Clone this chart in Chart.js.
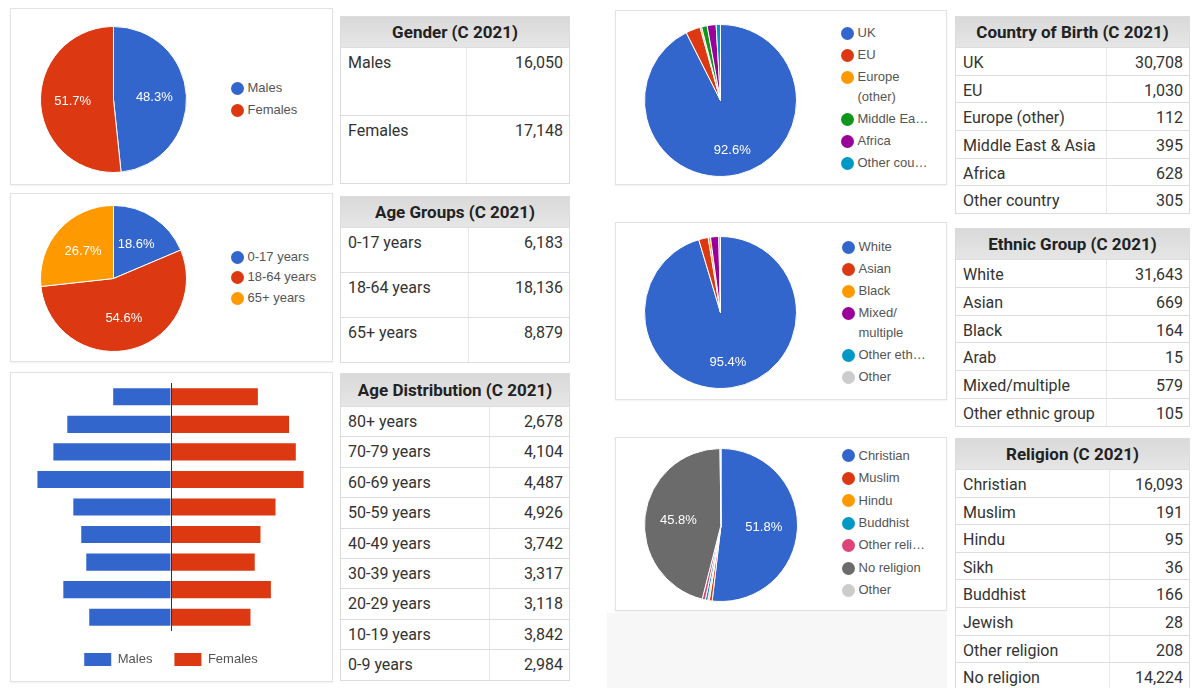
<!DOCTYPE html>
<html>
<head>
<meta charset="utf-8">
<script src="https://cdn.jsdelivr.net/npm/chart.js@4.4.0/dist/chart.umd.min.js"></script>
<style>
  body { margin: 0; width: 1195px; height: 688px; background: #fff; position: relative; overflow: hidden; font-family: Roboto, sans-serif; }
  .card { position: absolute; background: #fff; border: 1px solid #e2e2e2; box-shadow: 0 1px 2px rgba(0,0,0,.06); box-sizing: border-box; }
  .shade { position: absolute; background: #f7f7f7; }
  canvas { position: absolute; }
  .legend { position: absolute; margin: 0; padding: 0; list-style: none; font: 13px Arial, "Liberation Sans", sans-serif; color: #555; }
  .legend li { position: relative; padding: 1px 0 1px 17px; white-space: pre; }
  .legend i { position: absolute; left: 0; width: 13px; height: 13px; border-radius: 50%; }
  .tbl { position: absolute; box-sizing: border-box; border: 1px solid #dcdcdc; background: #fff; overflow: hidden; }
  .tbl .hd { text-align: center; font-weight: bold; font-size: 17px; color: #222; background: linear-gradient(#d9d9d9, #e6e6e6); }
  .tbl .row { position: relative; box-sizing: border-box; border-top: 1px solid #ddd; font-size: 16px; color: #333; line-height: 20px; padding-top: 5px; }
  .tbl .row .n { padding-left: 7px; }
  .tbl .row .v { position: absolute; right: 6px; top: 5px; }
  .tbl .row .d { position: absolute; top: 0; bottom: 0; border-left: 1px solid #e8e8e8; }
</style>
</head>
<body>
<div class="card" style="left:10px;top:8px;width:323px;height:177px"></div>
<div class="card" style="left:10px;top:193px;width:323px;height:169px"></div>
<div class="card" style="left:10px;top:372px;width:323px;height:310px"></div>
<div class="card" style="left:615px;top:10px;width:332px;height:175px"></div>
<div class="card" style="left:615px;top:222px;width:332px;height:178px"></div>
<div class="card" style="left:615px;top:437px;width:332px;height:174px"></div>
<div class="shade" style="left:607px;top:613px;width:340px;height:75px"></div>

<canvas id="genderPie" width="147" height="147" style="left:40px;top:26px"></canvas>
<canvas id="agePie" width="147" height="147" style="left:40px;top:205px"></canvas>
<canvas id="pyramid" width="323" height="308" style="left:10px;top:372px"></canvas>
<canvas id="countryPie" width="153" height="153" style="left:644px;top:24px"></canvas>
<canvas id="ethnicPie" width="153" height="153" style="left:644px;top:236px"></canvas>
<canvas id="religionPie" width="154" height="154" style="left:644px;top:448px"></canvas>

<ul class="legend" id="genderLegend"></ul>
<ul class="legend" id="ageLegend"></ul>
<ul class="legend" id="countryLegend"></ul>
<ul class="legend" id="ethnicLegend"></ul>
<ul class="legend" id="religionLegend"></ul>

<div class="tbl" id="genderTable"></div>
<div class="tbl" id="ageGroupTable"></div>
<div class="tbl" id="ageDistTable"></div>
<div class="tbl" id="countryTable"></div>
<div class="tbl" id="ethnicTable"></div>
<div class="tbl" id="religionTable"></div>

<script>
// ---- data (Census 2021) ----
const genderNames = ["Males", "Females"];
const genderValues = [16050, 17148];

const ageGroupNames = ["0-17 years", "18-64 years", "65+ years"];
const ageGroupValues = [6183, 18136, 8879];

const ageBands = ["80+ years", "70-79 years", "60-69 years", "50-59 years", "40-49 years",
  "30-39 years", "20-29 years", "10-19 years", "0-9 years"];
const ageBandTotals = [2678, 4104, 4487, 4926, 3742, 3317, 3118, 3842, 2984];
const malesByAge = [1070, 1919, 2177, 2472, 1808, 1661, 1568, 1993, 1513];
const femalesByAge = [1608, 2185, 2310, 2454, 1934, 1656, 1550, 1849, 1471];

const countryNames = ["UK", "EU", "Europe (other)", "Middle East & Asia", "Africa", "Other country"];
const countryValues = [30708, 1030, 112, 395, 628, 305];
const countryLegend = ["UK", "EU", "Europe\n(other)", "Middle Ea…", "Africa", "Other cou…"];

const ethnicNames = ["White", "Asian", "Black", "Arab", "Mixed/multiple", "Other ethnic group"];
const ethnicValues = [31643, 669, 164, 15, 579, 105];
const ethnicPieLabels = ["White", "Asian", "Black", "Mixed/multiple", "Other ethnic group", "Other"];
const ethnicPieValues = [31643, 669, 164, 579, 105, 15];
const ethnicLegend = ["White", "Asian", "Black", "Mixed/\nmultiple", "Other eth…", "Other"];

const religionNames = ["Christian", "Muslim", "Hindu", "Sikh", "Buddhist", "Jewish", "Other religion", "No religion"];
const religionValues = [16093, 191, 95, 36, 166, 28, 208, 14224];
const religionPieLabels = ["Christian", "Muslim", "Hindu", "Buddhist", "Other religion", "No religion", "Other"];
const religionPieValues = [16093, 191, 95, 166, 208, 14224, 64];
const religionLegend = ["Christian", "Muslim", "Hindu", "Buddhist", "Other reli…", "No religion", "Other"];

const blue = "#3366cc";
const red = "#dc3912";
const orange = "#ff9900";
const green = "#109618";
const purple = "#990099";
const teal = "#0099c6";
const pink = "#dd4477";
const grey = "#6b6b6b";
const lightGrey = "#cccccc";

// percentage text inside the bigger slices
const pieLabels = {
  id: "pieLabels",
  afterDatasetsDraw(chart) {
    const ctx = chart.ctx;
    const meta = chart.getDatasetMeta(0);
    const data = chart.data.datasets[0].data;
    const total = data.reduce((a, b) => a + b, 0);
    ctx.save();
    ctx.fillStyle = "#fff";
    ctx.font = "13px Arial";
    ctx.textAlign = "center";
    ctx.textBaseline = "middle";
    meta.data.forEach((arc, i) => {
      const share = data[i] / total;
      if (share < 0.05) return;
      const mid = (arc.startAngle + arc.endAngle) / 2;
      const d = arc.outerRadius * (share > 0.8 ? 0.67 : 0.56);
      ctx.fillText((share * 100).toFixed(1) + "%", arc.x + Math.cos(mid) * d, arc.y + Math.sin(mid) * d);
    });
    ctx.restore();
  },
};

function makePie(id, labels, values, colors) {
  return new Chart(document.getElementById(id), {
    type: "pie",
    data: {
      labels: labels,
      datasets: [{ data: values, backgroundColor: colors, borderColor: "#fff", borderWidth: 1, hoverOffset: 0 }],
    },
    options: {
      responsive: false,
      animation: false,
      plugins: { legend: { display: false }, tooltip: { enabled: false } },
    },
    plugins: [pieLabels],
  });
}

function buildLegend(id, names, colors, dotX, firstY, gap) {
  const ul = document.getElementById(id);
  ul.style.left = dotX - 6.5 + "px";
  ul.style.top = firstY - gap / 2 + "px";
  names.forEach((name, i) => {
    const li = document.createElement("li");
    li.style.lineHeight = gap - 2 + "px";
    const dot = document.createElement("i");
    dot.style.background = colors[i];
    dot.style.top = gap / 2 - 6.5 + "px";
    li.appendChild(dot);
    li.appendChild(document.createTextNode(name));
    ul.appendChild(li);
  });
}

function fmt(v) {
  return String(v).replace(/\B(?=(\d{3})+(?!\d))/g, ",");
}

function buildTable(id, title, names, values, left, top, width, headH, rowH, divX) {
  const box = document.getElementById(id);
  box.style.left = left + "px";
  box.style.top = top + "px";
  box.style.width = width + "px";
  let html = `<div class="hd" style="height:${headH}px;line-height:${headH}px">${title}</div>`;
  names.forEach((name, i) => {
    html += `<div class="row" style="height:${rowH}px"><span class="n">${name}</span><span class="d" style="left:${divX}px"></span><span class="v">${fmt(values[i])}</span></div>`;
  });
  box.innerHTML = html;
}

// ---- pies ----
const genderColors = [blue, red];
const ageColors = [blue, red, orange];
const countryColors = [blue, red, orange, green, purple, teal];
const ethnicColors = [blue, red, orange, purple, teal, lightGrey];
const religionColors = [blue, red, orange, teal, pink, grey, lightGrey];

makePie("genderPie", genderNames, genderValues, genderColors);
makePie("agePie", ageGroupNames, ageGroupValues, ageColors);
makePie("countryPie", countryNames, countryValues, countryColors);
makePie("ethnicPie", ethnicPieLabels, ethnicPieValues, ethnicColors);
makePie("religionPie", religionPieLabels, religionPieValues, religionColors);

buildLegend("genderLegend", genderNames, genderColors, 237, 88, 22);
buildLegend("ageLegend", ageGroupNames, ageColors, 237, 257, 20.5);
buildLegend("countryLegend", countryLegend, countryColors, 847, 33, 22);
buildLegend("ethnicLegend", ethnicLegend, ethnicColors, 848, 247, 22);
buildLegend("religionLegend", religionLegend, religionColors, 848, 456, 22.4);

// ---- population pyramid ----
const zeroLine = {
  id: "zeroLine",
  afterDatasetsDraw(chart) {
    const ctx = chart.ctx;
    const x = Math.round(chart.scales.x.getPixelForValue(0)) + 0.5;
    ctx.save();
    ctx.strokeStyle = "#333";
    ctx.lineWidth = 1;
    ctx.beginPath();
    ctx.moveTo(x, chart.chartArea.top);
    ctx.lineTo(x, chart.chartArea.bottom);
    ctx.stroke();
    ctx.restore();
  },
};

new Chart(document.getElementById("pyramid"), {
  type: "bar",
  data: {
    labels: ageBands,
    datasets: [
      { label: "Males", data: malesByAge.map((v) => -v), backgroundColor: blue },
      { label: "Females", data: femalesByAge, backgroundColor: red },
    ],
  },
  options: {
    indexAxis: "y",
    responsive: false,
    animation: false,
    barPercentage: 0.62,
    categoryPercentage: 1,
    layout: { padding: { left: 27, right: 28, top: 11, bottom: 4 } },
    scales: {
      x: {
        stacked: true,
        min: -2480,
        max: 2480,
        ticks: { display: false, stepSize: 2000 },
        border: { display: false },
        grid: {
          drawTicks: false,
          color: (c) => (Math.abs(c.tick.value) === 2000 ? "#e3e3e3" : "rgba(0,0,0,0)"),
        },
      },
      y: { stacked: true, display: false },
    },
    plugins: {
      legend: {
        position: "bottom",
        labels: { boxWidth: 27, boxHeight: 13, padding: 22, color: "#555", font: { family: "Arial", size: 13 } },
      },
      tooltip: { enabled: false },
    },
  },
  plugins: [zeroLine],
});

// ---- tables ----
buildTable("genderTable", "Gender (C 2021)", genderNames, genderValues, 340, 16, 230, 30, 68, 125);
buildTable("ageGroupTable", "Age Groups (C 2021)", ageGroupNames, ageGroupValues, 340, 196, 230, 30, 45, 127);
buildTable("ageDistTable", "Age Distribution (C 2021)", ageBands, ageBandTotals, 340, 373, 230, 32, 30.4, 148);
buildTable("countryTable", "Country of Birth (C 2021)", countryNames, countryValues, 955, 16, 235, 30, 27.7, 150);
buildTable("ethnicTable", "Ethnic Group (C 2021)", ethnicNames, ethnicValues, 955, 228, 235, 30, 27.8, 150);
buildTable("religionTable", "Religion (C 2021)", religionNames, religionValues, 955, 438, 235, 30, 27.6, 153);
</script>
</body>
</html>
